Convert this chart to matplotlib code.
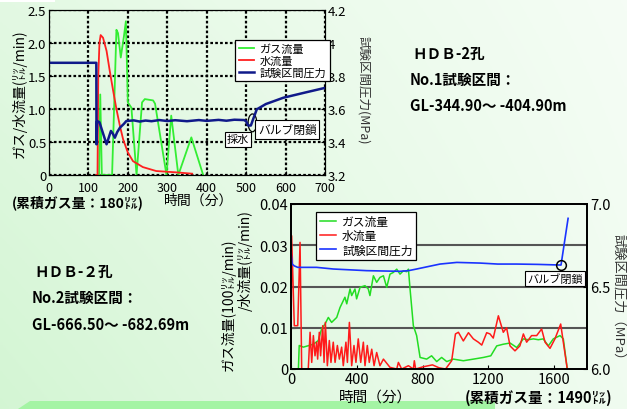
import matplotlib
matplotlib.use("Agg")
import matplotlib.pyplot as plt
from matplotlib.patches import Ellipse, Polygon, Rectangle
import numpy as np

plt.rcParams['font.family'] = ['Noto Sans CJK JP', 'DejaVu Sans']

# No.1 interval (top chart)
t1_gas = [125, 127, 130, 134, 160, 171, 175, 182, 190, 195, 200, 209, 222, 236, 243,
          264, 269, 298, 310, 328, 361, 391]
gas1 = [0, 0, 1.22, 0, 0, 2.2, 2.15, 1.78, 2.1, 2.33, 1.10, 1.02, 0, 1.1, 1.15,
        1.13, 1.08, 0, 0.9, 0, 0.57, 0]

t1_water = [120, 123, 125, 128, 131, 137, 146, 154, 162, 171, 180, 188, 200, 213, 238,
            272, 323, 363]
water1 = [0, 0, 1.5, 2.0, 2.12, 2.08, 1.88, 1.58, 1.30, 1.0, 0.74, 0.54, 0.34, 0.21, 0.12,
          0.06, 0.04, 0.02]

t1_pres = [0, 120, 120.5, 122, 128, 136, 146, 152, 157, 162, 167, 173, 180, 190, 196,
           215, 230, 245, 260, 280, 300, 320, 350, 380, 400, 430, 450, 470, 495, 500,
           505, 512, 518, 527, 550, 594, 650, 700]
pres1 = [3.88, 3.88, 3.386, 3.527, 3.52, 3.46, 3.386, 3.43, 3.467, 3.45, 3.426, 3.46, 3.487, 3.51, 3.527,
         3.531, 3.524, 3.53, 3.526, 3.533, 3.527, 3.532, 3.526, 3.533, 3.528, 3.534, 3.529, 3.535, 3.533, 3.525,
         3.50, 3.50, 3.54, 3.598, 3.63, 3.668, 3.70, 3.728]

# No.2 interval (bottom chart)
t2_gas = [0, 45, 50, 75, 136, 166, 186, 207, 227, 247, 278, 298, 328, 339, 359,
          369, 389, 399, 420, 450, 470, 480, 501, 521, 541, 562, 582, 602, 622, 643,
          663, 683, 703, 714, 724, 744, 764, 785, 825, 855, 886, 916, 947, 987, 1048,
          1110, 1170, 1215, 1251, 1290, 1332, 1373, 1413, 1443, 1474, 1504, 1534, 1565, 1595, 1636,
          1656, 1680]
gas2 = [0, 0, 0.0057, 0.0053, 0.0060, 0.0069, 0.0097, 0.0109, 0.0125, 0.0113, 0.0125, 0.0149, 0.0174, 0.0158, 0.0194,
        0.0178, 0.0194, 0.0170, 0.0198, 0.0202, 0.0194, 0.0178, 0.0226, 0.0210, 0.0222, 0.0226, 0.0198, 0.0230, 0.0234, 0.0242,
        0.0230, 0.0238, 0.0236, 0.0242, 0.0194, 0.0105, 0.0081, 0.0028, 0.0024, 0.0032, 0.0018, 0.0028, 0.0018, 0.0024, 0.0020,
        0.0024, 0.0028, 0.0032, 0.0056, 0.0060, 0.0063, 0.0052, 0.0073, 0.0071, 0.0073, 0.0071, 0.0073, 0.0056, 0.0073, 0.0081,
        0.0073, 0]

t2_water = [0, 4, 20, 41, 55, 65, 105, 116, 126, 136, 146, 156, 162, 172, 180,
            193, 201, 209, 221, 233, 243, 257, 268, 282, 294, 308, 318, 334, 343, 355,
            369, 383, 395, 409, 424, 440, 450, 464, 476, 491, 505, 521, 541, 562, 602,
            643, 653, 673, 714, 744, 750, 758, 800, 860, 900, 940, 977, 1000, 1018, 1048,
            1079, 1109, 1139, 1160, 1190, 1210, 1230, 1261, 1291, 1311, 1332, 1362, 1392, 1413, 1433,
            1463, 1494, 1524, 1545, 1575, 1605, 1640, 1656, 1680]
water2 = [0, 0.0323, 0.0105, 0.0105, 0.0307, 0, 0, 0.0089, 0.0016, 0.0081, 0.0032, 0.0065, 0.0024, 0.0089, 0.0032,
          0.0105, 0.0016, 0.0113, 0.0008, 0.0069, 0.0016, 0.0065, 0.0016, 0.0057, 0.0024, 0.0053, 0.0008, 0.0065, 0.0016, 0.0113,
          0.0008, 0.0057, 0.0016, 0.0073, 0.0016, 0.0065, 0.0008, 0.0057, 0.0016, 0.0048, 0.0008, 0.0040, 0.0008, 0.0024, 0.0004,
          0, 0.0016, 0, 0.0008, 0, 0.0020, 0, 0.0005, 0.0010, 0.0003, 0, 0.0020, 0.0085, 0.0089, 0.0068,
          0.0088, 0.0073, 0.0065, 0.0058, 0.0088, 0.0085, 0.0075, 0.0129, 0.0089, 0.0100, 0.0056, 0.0044, 0.0056, 0.0085, 0.0065,
          0.0081, 0.0081, 0.0097, 0.0065, 0.0050, 0.0073, 0.0109, 0.0065, 0]

t2_pres = [0, 7, 20, 41, 156, 257, 460, 663, 714, 764, 830, 906, 1008, 1150, 1257, 1372, 1500, 1642, 1685]
pres2 = [6.707, 6.636, 6.625, 6.616, 6.616, 6.606, 6.596, 6.592, 6.596, 6.606, 6.62, 6.636, 6.646, 6.642, 6.636,
         6.636, 6.634, 6.630, 6.913]

W, H = 627, 410


def fx(x):
    return x / W


def fy(y):
    return 1 - y / H


fig = plt.figure(figsize=(W / 100, H / 100), dpi=100)

# light green slide background
bg = fig.add_axes([0, 0, 1, 1], zorder=-10)
xx, yy = np.meshgrid(np.linspace(0, 1, 200), np.linspace(0, 1, 140))
g = 0.17 * (1 - 0.65 * xx) * (0.65 + 0.35 * yy)
img = np.dstack([1 - g, 1 - 0.22 * g, 1 - g])
bg.imshow(img, extent=[0, 1, 0, 1], aspect='auto', origin='upper')
bg.add_patch(Polygon([[18 / W, 0], [30 / W, 8 / H], [495 / W, 8 / H], [495 / W, 0]],
                     closed=True, color='#a4f4a4', lw=0))
bg.add_patch(Rectangle((0, 1 - 3 / H), 55 / W, 3 / H, color='white', lw=0))
bg.set_xlim(0, 1)
bg.set_ylim(0, 1)
bg.axis('off')

# ---- top chart
ax1 = fig.add_axes([fx(49), fy(176), 276 / W, 165 / H])
ax1.patch.set_alpha(0)
ax1r = ax1.twinx()
l1, = ax1.plot(t1_gas, gas1, color='#33ee33', lw=1.3, label='ガス流量')
l2, = ax1.plot(t1_water, water1, color='#ff2020', lw=1.3, label='水流量')
l3, = ax1r.plot(t1_pres, pres1, color='#101a8a', lw=1.8, label='試験区間圧力')
ax1.set_xlim(0, 700)
ax1.set_ylim(0, 2.5)
ax1r.set_ylim(3.2, 4.2)
ax1.set_xticks(range(0, 701, 100))
ax1.set_yticks([0, 0.5, 1.0, 1.5, 2.0, 2.5])
ax1.set_yticklabels(['0', '0.5', '1.0', '1.5', '2.0', '2.5'])
ax1r.set_yticks([3.2, 3.4, 3.6, 3.8, 4.0, 4.2])
ax1r.set_yticklabels(['3.2', '3.4', '3.6', '3.8', '4', '4.2'])
ax1.grid(True, color='black', linestyle=(0, (1.2, 1)), lw=1.6)
for a in (ax1, ax1r):
    a.tick_params(direction='in', length=3, labelsize=9.5, pad=2)
ax1.tick_params(axis='x', pad=4, labelsize=9)
ax1.set_ylabel('ガス/水流量(㍑/min)', fontsize=10, labelpad=1)
fig.text(fx(363), fy(90), '試験区間圧力(MPa)', fontsize=9, color='#333333', rotation=270,
         ha='center', va='center')
leg1 = ax1r.legend(handles=[l1, l2, l3], loc='upper left', bbox_to_anchor=(0.655, 0.85),
                   fontsize=8, frameon=True, fancybox=False, edgecolor='black',
                   framealpha=1, handlelength=1.4, borderpad=0.3, labelspacing=0.15, handletextpad=0.5)
leg1.get_frame().set_linewidth(0.9)
ax1r.text(479, 3.2 + 0.54 * 0.4, '採水', fontsize=8, ha='center', va='center',
          bbox=dict(boxstyle='square,pad=0.2', fc='white', ec='black', lw=0.8))
ax1r.text(604, 3.2 + 0.69 * 0.4, 'バルブ閉鎖', fontsize=8.5, ha='center', va='center',
          bbox=dict(boxstyle='square,pad=0.25', fc='white', ec='black', lw=0.8))
ax1r.add_patch(Ellipse((516, 3.2 + 0.79 * 0.4), 22, 0.27 * 0.4, fill=False, ec='black', lw=0.9))

fig.text(fx(199), fy(201), '時間（分）', fontsize=10, ha='center', va='center')
fig.text(fx(12), fy(203), '(累積ガス量：180㍑)', fontsize=10, fontweight='bold', ha='left', va='center')

fig.text(fx(412), fy(54), 'ＨＤＢ-2孔', fontsize=10.5, fontweight='bold', ha='left', va='center')
fig.text(fx(410), fy(80), 'No.1試験区間：', fontsize=10.5, fontweight='bold', ha='left', va='center')
fig.text(fx(410), fy(106), 'GL-344.90～ -404.90m', fontsize=10.5, fontweight='bold', ha='left', va='center')

# ---- bottom chart
ax2 = fig.add_axes([fx(291), fy(370), 296 / W, 165 / H])
ax2.patch.set_alpha(0)
ax2r = ax2.twinx()
for y in (0.01, 0.02, 0.03):
    ax2.axhline(y, color='#555555', lw=1.5)
m1, = ax2.plot(t2_gas, gas2, color='#22dd22', lw=1.1, label='ガス流量')
m2, = ax2.plot(t2_water, water2, color='#ff1a1a', lw=1.1, label='水流量')
m3, = ax2r.plot(t2_pres, pres2, color='#1a33ff', lw=1.2, label='試験区間圧力')
ax2.set_xlim(0, 1800)
ax2.set_ylim(0, 0.04)
ax2r.set_ylim(6.0, 7.0)
ax2.set_xticks([0, 400, 800, 1200, 1600])
ax2.set_yticks([0, 0.01, 0.02, 0.03, 0.04])
ax2.set_yticklabels(['0', '0.01', '0.02', '0.03', '0.04'])
ax2r.set_yticks([6.0, 6.5, 7.0])
ax2r.set_yticklabels(['6.0', '6.5', '7.0'])
for a in (ax2, ax2r):
    a.tick_params(direction='in', length=3, labelsize=10.5, pad=2)
    for s in a.spines.values():
        s.set_linewidth(1.3)
fig.text(fx(618), fy(300), '試験区間圧力（MPa）', fontsize=9.5, color='#333333', rotation=270,
         ha='center', va='center')
leg2 = ax2r.legend(handles=[m1, m2, m3], loc='upper left', bbox_to_anchor=(0.065, 0.99),
                   fontsize=8.5, frameon=True, fancybox=False, edgecolor='black',
                   framealpha=1, handlelength=1.4, borderpad=0.3, labelspacing=0.1, handletextpad=0.5)
leg2.get_frame().set_linewidth(0.9)
ax2r.plot([1642], [6.63], 'o', mfc='none', mec='black', ms=7, mew=1.1)
ax2r.text(1606, 6.55, 'バルブ閉鎖', fontsize=8, ha='center', va='center',
          bbox=dict(boxstyle='square,pad=0.2', fc='white', ec='black', lw=0.8))

fig.text(fx(228), fy(305), 'ガス流量(100㍑/min)', fontsize=10, rotation=90, ha='center', va='center')
fig.text(fx(245), fy(261), '/水流量(㍑/min)', fontsize=10, rotation=90, ha='center', va='center')
fig.text(fx(375), fy(398), '時間（分）', fontsize=10.5, ha='center', va='center')
fig.text(fx(465), fy(398), '(累積ガス量：1490㍑)', fontsize=10.5, fontweight='bold', ha='left', va='center')

fig.text(fx(34), fy(272), 'ＨＤＢ-２孔', fontsize=10.5, fontweight='bold', ha='left', va='center')
fig.text(fx(32), fy(298), 'No.2試験区間：', fontsize=10.5, fontweight='bold', ha='left', va='center')
fig.text(fx(32), fy(325), 'GL-666.50～ -682.69m', fontsize=10.5, fontweight='bold', ha='left', va='center')

fig.savefig('out.png', dpi=100)
